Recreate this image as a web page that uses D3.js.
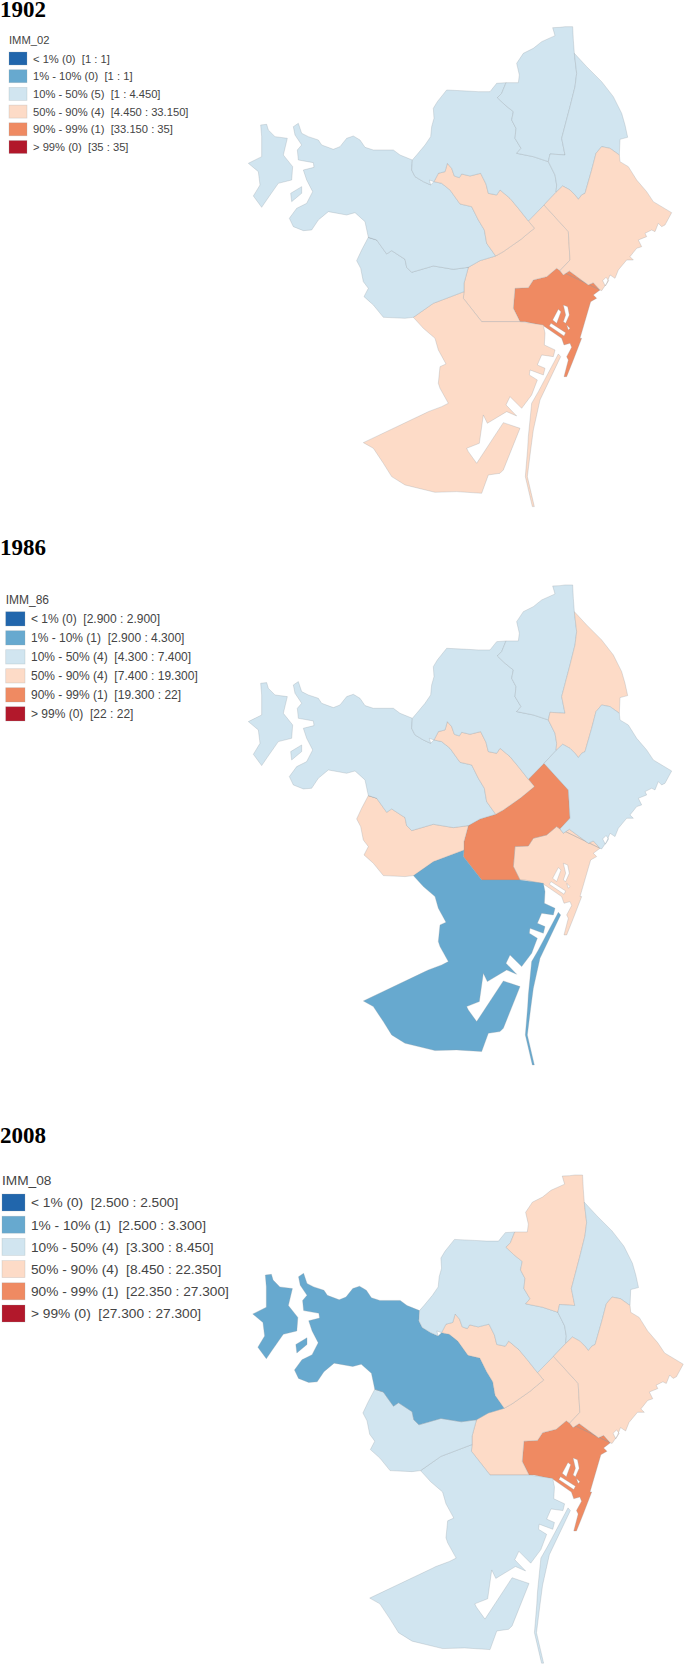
<!DOCTYPE html>
<html>
<head>
<meta charset="utf-8">
<script src="https://cdn.jsdelivr.net/npm/d3@7"></script>
<style>
  html, body { margin: 0; padding: 0; background: #fff; }
  svg { display: block; }
  text { white-space: pre; }
</style>
</head>
<body>
<script>
// map maker classes, one per panel
const years = ['1902', '1986', '2008'];
const fields = ['IMM_02', 'IMM_86', 'IMM_08'];
const classColors = ['#2166ac', '#67a9cf', '#d1e5f0', '#fddbc7', '#ef8a62', '#b2182b'];

const classNames = ['< 1%', '1% - 10%', '10% - 50%', '50% - 90%', '90% - 99%', '> 99%'];
const counts02 = [0, 0, 5, 4, 1, 0];
const counts86 = [0, 1, 4, 4, 1, 0];
const counts08 = [0, 1, 4, 4, 1, 0];
const ranges02 = ['1 : 1', '1 : 1', '1 : 4.450', '4.450 : 33.150', '33.150 : 35', '35 : 35'];
const ranges86 = ['2.900 : 2.900', '2.900 : 4.300', '4.300 : 7.400', '7.400 : 19.300', '19.300 : 22', '22 : 22'];
const ranges08 = ['2.500 : 2.500', '2.500 : 3.300', '3.300 : 8.450', '8.450 : 22.350', '22.350 : 27.300', '27.300 : 27.300'];

// class of each district (index into classColors)
const districtNames = ['ciutatVella', 'eixample', 'sants', 'lesCorts', 'sarria', 'gracia', 'horta', 'nouBarris', 'santAndreu', 'santMarti'];
const class02 = [4, 3, 3, 2, 2, 3, 2, 2, 2, 3];
const class86 = [3, 4, 1, 3, 2, 3, 2, 2, 3, 2];
const class08 = [4, 3, 2, 2, 1, 3, 2, 3, 2, 3];

// traced borders, in map units
const graciaTop = [[582,455],[595,430],[615,425],[622,400],[635,415],[643,438],[658,443],[665,432],[690,438],[722,430],[738,462],[745,490],[770,495],[780,480],[810,505],[835,535],[865,573]];
const graciaEix = [[865,573],[883,595],[862,612],[843,628],[790,665],[767,678]];
const graciaSar = [[767,678],[740,640],[733,600],[715,570],[695,530],[660,522],[630,480],[605,460],[582,455]];
const horNou = [[798,158],[785,190],[772,203],[795,225],[820,245],[815,270],[828,295],[825,325],[843,355],[830,370],[880,380],[925,395]];
const nouAnd = [[925,395],[930,372],[975,375],[965,325],[990,230],[1005,170],[1010,130],[1003,70]];
const nouOuter = [[1003,70],[1000,30],[998,-10],[975,-10],[960,-8],[938,-7],[945,17],[905,35],[880,55],[850,70],[830,100],[838,135],[835,158],[798,158]];
const horOuter = [[798,158],[770,160],[750,185],[715,185],[680,183],[620,180],[592,215],[580,235],[582,265],[575,290],[572,320],[555,345],[530,375],[517,390]];
const horSar = [[517,390],[515,420],[525,440],[550,455],[572,465],[568,450],[582,455]];
const horAnd = [[925,395],[945,435],[950,465],[948,487]];
const horMar = [[948,487],[912,525],[865,573]];
const andOuter = [[1003,70],[1040,110],[1085,155],[1120,200],[1145,250],[1155,285],[1163,322],[1140,328],[1138,375]];
const andMar = [[1138,375],[1110,355],[1085,350],[1068,370],[1055,420],[1035,490],[1025,495],[1015,508],[1005,495],[990,480],[968,468],[948,487]];
const marCoast = [[1138,375],[1140,395],[1165,410],[1190,450],[1220,485],[1240,515],[1295,548],[1275,585],[1265,590],[1255,580],[1245,605],[1235,600],[1215,610],[1220,620],[1195,630],[1205,650],[1190,655],[1170,680],[1180,690],[1160,690],[1135,720],[1125,745],[1110,735],[1100,760],[1085,782],[1080,780]];
const marHarbour = [[1088,752],[1098,742],[1106,752],[1096,768]];
const cvTopEast = [[1080,780],[1060,758],[1045,765],[988,723],[970,735],[960,722]];
const cvTopWest = [[960,722],[950,715],[920,740],[880,750],[865,773],[825,775]];
const cvWest = [[825,775],[820,835],[840,875]];
const cvCoast = [[840,875],[855,875],[910,887],[965,925],[972,945],[990,940],[995,952],[980,980],[985,990],[972,1040],[980,1040],[1000,990],[1025,925],[1020,925],[1052,815],[1070,805],[1060,795],[1080,780]];
const eixMar = [[960,722],[990,690],[985,605],[912,525]];
const eixSar = [[767,678],[720,692],[685,712]];
const eixCorts = [[685,712],[672,760],[672,785]];
const eixSants = [[672,785],[670,805],[725,875],[840,875]];
const cortsSar = [[685,712],[640,718],[580,708],[515,727],[500,712],[495,688],[455,662],[440,672],[410,630],[385,622]];
const cortsOuter = [[385,622],[365,660],[350,692],[362,715],[370,755],[385,775],[372,800],[400,825],[430,862],[495,865],[520,862]];
const cortsSants = [[520,862],[580,820],[672,785]];
const sarTop = [[385,622],[375,575],[345,548],[320,555],[265,545],[235,570],[215,600],[190,602],[160,590],[148,565],[170,535],[200,520],[218,485],[200,450],[190,420],[222,412],[220,398],[175,390],[172,360],[185,345],[165,315],[160,290],[175,280],[185,310],[205,320],[235,330],[245,345],[280,358],[300,350],[320,325],[340,318],[360,330],[375,352],[400,360],[460,360],[480,375],[517,390]];
const sarIsland = [[62,285],[80,283],[85,300],[105,320],[142,325],[130,375],[158,410],[155,450],[115,460],[80,510],[65,532],[40,498],[60,465],[55,425],[25,400],[65,380],[65,320]];
const sarIslet = [[152,490],[185,470],[185,490],[155,515]];
const santsPort = [[840,875],[910,885],[915,910],[913,945],[945,960],[940,980],[905,975],[892,1005],[915,1015],[910,1035],[870,1020],[868,1035],[892,1050],[875,1095],[845,1135],[810,1100],[798,1125],[830,1158],[800,1145],[742,1180],[730,1155],[718,1240],[680,1255],[685,1265],[710,1300],[790,1178],[840,1195],[790,1320],[780,1330],[745,1335],[725,1390],[650,1385],[585,1387],[495,1365],[455,1340],[430,1300],[400,1255],[370,1238],[555,1150],[565,1145],[605,1130],[625,1120],[600,1075],[595,1060],[600,1010],[618,1002],[595,960],[585,925],[550,895],[520,862]];
const breakwater = [[883,1430],[862,1340],[872,1260],[880,1200],[900,1110],[962,980],[955,972],[895,1085],[875,1120],[865,1220],[863,1255],[856,1340],[877,1430]];
const cvMarina = [[970,825],[983,830],[988,855],[977,880],[970,875],[977,855]];
const cvBasin = [[955,838],[963,845],[950,880],[938,870]];
const cvStripe = [[933,880],[977,908],[972,918],[928,888]];
const cvDock = [[980,885],[990,895],[985,900]];

const rev = a => a.slice().reverse();

const districtRings = {
  ciutatVella: [[...rev(cvTopEast), ...cvTopWest, ...cvWest, ...cvCoast], cvMarina, cvBasin, cvStripe, cvDock],
  eixample: [[...graciaEix, ...eixSar, ...eixCorts, ...eixSants, ...rev(cvWest), ...rev(cvTopWest), ...eixMar]],
  sants: [[...santsPort, ...cortsSants, ...eixSants], breakwater],
  lesCorts: [[...rev(cortsSar), ...cortsOuter, ...cortsSants, ...rev(eixCorts)]],
  sarria: [[...horSar.slice(0, 5), ...rev(graciaSar), ...eixSar, ...cortsSar, ...sarTop], sarIsland, sarIslet],
  gracia: [[...graciaTop, ...graciaEix, ...graciaSar]],
  horta: [[...horOuter, ...horSar, ...graciaTop, ...rev(horMar), ...rev(horAnd), ...rev(horNou)]],
  nouBarris: [[...horNou, ...nouAnd, ...nouOuter]],
  santAndreu: [[...andOuter, ...andMar, ...rev(horAnd), ...nouAnd]],
  santMarti: [[[912,525], ...rev(andMar), ...marCoast, ...cvTopEast, ...eixMar], marHarbour]
};

const panels = [
  { classes: class02, counts: counts02, ranges: ranges02, titleY: 17, x: [240, 685], y: [30, 363.3],
    legend: { x: 9, titleY: 43.5, swatchY: 52, swatchW: 18, swatchH: 13, step: 17.7, textX: 33, size: 11.2 } },
  { classes: class86, counts: counts86, ranges: ranges86, titleY: 555, x: [240, 685], y: [588.3, 921.6],
    legend: { x: 5.7, titleY: 604, swatchY: 611.7, swatchW: 19.3, swatchH: 14.3, step: 19, textX: 31, size: 12 } },
  { classes: class08, counts: counts08, ranges: ranges08, titleY: 1143, x: [244.3, 696.8], y: [1178.4, 1517.4],
    legend: { x: 2, titleY: 1185, swatchY: 1194, swatchW: 23, swatchH: 17, step: 22.2, textX: 31, size: 13.7 } }
];

const svg = d3.select('body').append('svg')
  .attr('width', 685)
  .attr('height', 1665);

panels.forEach((panel, i) => {
  const g = svg.append('g');

  const xScale = d3.scaleLinear().domain([0, 1335]).range(panel.x);
  const yScale = d3.scaleLinear().domain([0, 1000]).range(panel.y);
  const line = d3.line().x(d => xScale(d[0])).y(d => yScale(d[1]));

  g.selectAll('.district')
    .data(districtNames)
    .enter()
    .append('path')
    .attr('class', 'district')
    .attr('fill-rule', 'evenodd')
    .attr('d', name => districtRings[name].map(r => line(r) + 'Z').join(''))
    .attr('fill', (name, k) => classColors[panel.classes[k]])
    .attr('stroke', '#8f9aa0')
    .attr('stroke-opacity', 0.35)
    .attr('stroke-width', 0.8);

  g.append('text')
    .attr('x', 0)
    .attr('y', panel.titleY)
    .style('font-family', '"Liberation Serif", serif')
    .style('font-weight', 'bold')
    .style('font-size', '23px')
    .style('fill', '#000')
    .text(years[i]);

  const lg = panel.legend;
  g.append('text')
    .attr('x', lg.x)
    .attr('y', lg.titleY)
    .style('font-family', '"Liberation Sans", sans-serif')
    .style('font-size', `${lg.size}px`)
    .style('fill', '#444')
    .text(fields[i]);

  const rows = g.selectAll('.row')
    .data(classNames)
    .enter()
    .append('g')
    .attr('class', 'row')
    .attr('transform', (d, k) => `translate(0, ${lg.swatchY + k * lg.step})`);

  rows.append('rect')
    .attr('x', lg.x)
    .attr('width', lg.swatchW)
    .attr('height', lg.swatchH)
    .attr('fill', (d, k) => classColors[k])
    .attr('stroke', '#9aa3a8')
    .attr('stroke-opacity', 0.35)
    .attr('stroke-width', 0.7);

  rows.append('text')
    .attr('x', lg.textX)
    .attr('y', lg.swatchH / 2 + lg.size * 0.36)
    .style('font-family', '"Liberation Sans", sans-serif')
    .style('font-size', `${lg.size}px`)
    .style('fill', '#444')
    .text((d, k) => `${d} (${panel.counts[k]})  [${panel.ranges[k]}]`);
});
</script>
</body>
</html>
